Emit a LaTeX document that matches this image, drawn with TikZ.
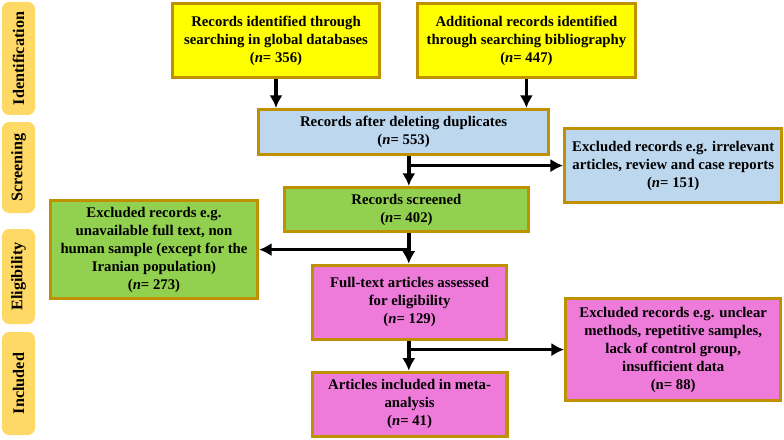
\documentclass[tikz,border=0pt]{standalone}
\usepackage{fontspec}
\setmainfont{Liberation Serif}
\usepackage{tikz}
\usetikzlibrary{positioning,shapes,arrows,arrows.meta}
\definecolor{gold}{RGB}{191,144,0}
\definecolor{boxyellow}{RGB}{255,255,0}
\definecolor{boxblue}{RGB}{189,215,238}
\definecolor{boxgreen}{RGB}{146,208,80}
\definecolor{boxpink}{RGB}{238,122,217}
\definecolor{stagefill}{RGB}{255,217,102}
\tikzstyle{box}=[draw=gold, line width=2.4pt, align=center, inner sep=0pt, font=\fontsize{10.5}{12.8}\selectfont\bfseries]
\tikzstyle{yel}=[box, fill=boxyellow, minimum height=1.85cm]
\tikzstyle{blu}=[box, fill=boxblue]
\tikzstyle{grn}=[box, fill=boxgreen]
\tikzstyle{pnk}=[box, fill=boxpink]
\tikzstyle{stage}=[fill=stagefill, rounded corners=5pt, rotate=90, minimum height=0.825cm, font=\fontsize{11.5}{13}\selectfont\bfseries]

\begin{document}
\begin{tikzpicture}[node distance=2cm,auto,>={Latex[length=9pt,width=9.5pt]}]
\useasboundingbox (0,0) rectangle (19.6,-11);

% stages on the left
\node[stage, minimum width=2.825cm] at (0.4625,-1.4625) (ident) {Identification};
\node[stage, minimum width=2.275cm] at (0.4625,-4.1875) (screen) {Screening};
\node[stage, minimum width=2.375cm] at (0.4625,-6.9125) (elig) {Eligibility};
\node[stage, minimum width=2.575cm] at (0.4625,-9.5875) (incl) {Included};

% identification
\node[yel, minimum width=5.17cm] at (6.9,-1.01) (db) {Records identified through\\searching in global databases\\(\textit{n}= 356)};
\node[yel, minimum width=5.45cm, right of = db, node distance = 6.26cm] (bib) {Additional records identified\\through searching bibliography\\(\textit{n}= 447)};

% screening
\node[blu, minimum width=7.25cm, minimum height=1.12cm] at (10.09,-3.3) (dup) {Records after deleting duplicates\\(\textit{n}= 553)};
\node[blu, minimum width=5.42cm, minimum height=1.85cm] at (16.83,-4.14) (exc1) {Excluded records e.g. irrelevant\\articles, review and case reports\\(\textit{n}= 151)};
\node[grn, minimum width=6.1cm, minimum height=1.1cm] at (10.16,-5.24) (scr) {Records screened\\(\textit{n}= 402)};
\coordinate (spine) at (10.22,0);

% eligibility
\node[grn, minimum width=5.17cm, minimum height=2.45cm] at (3.85,-6.24) (exc2) {Excluded records e.g.\\unavailable full text, non\\human sample (except for the\\Iranian population)\\(\textit{n}= 273)};
\node[pnk, minimum width=4.85cm, minimum height=1.85cm] at (10.24,-7.56) (full) {Full-text articles assessed\\for eligibility\\(\textit{n}= 129)};

% included
\node[pnk, minimum width=5.37cm, minimum height=2.55cm] at (16.83,-8.74) (exc3) {Excluded records e.g. unclear\\methods, repetitive samples,\\lack of control group,\\insufficient data\\(n= 88)};
\node[pnk, minimum width=4.87cm, minimum height=1.6cm, below of = full, node distance = 2.55cm] (final) {Articles included in meta-\\analysis\\(\textit{n}= 41)};

\draw[->,line width = 2.6pt] (db.south) -- (db.south |- dup.north);
\draw[->,line width = 2.6pt] (bib.south) -- (bib.south |- dup.north);

\draw[->,line width = 2.6pt] (dup.south -| spine) -- (scr.north -| spine);
\draw[->,line width = 2.6pt] (dup.south -| spine) |- (exc1);

\draw[->,line width = 2.6pt] (scr.south -| spine) -- (full.north -| spine);
\draw[->,line width = 2.6pt] (scr.south -| spine) |- (exc2);

\draw[->,line width = 2.6pt] (full.south -| spine) -- (final.north -| spine);
\draw[->,line width = 2.6pt] (full.south -| spine) |- (exc3);
\end{tikzpicture}
\end{document}
